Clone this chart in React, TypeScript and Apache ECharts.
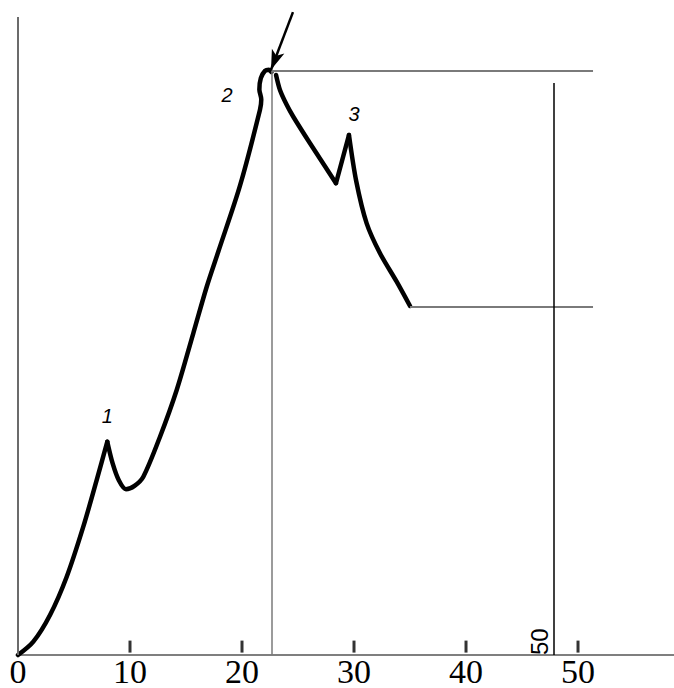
import React, { useEffect, useRef } from "react";
import * as echarts from "echarts";

// x axis
const xMin = 0;
const xMax = 58.57;
const xInterval = 10;
const xTickMarks = [10, 20, 30, 40, 50];
const tickCentre = 0.75;

// rising branch: origin up to peak 1
const riseToPeak1: [number, number][] = [
  [0, 0],
  [1.37, 1.19],
  [2.86, 3.57],
  [4.35, 6.99],
  [5.83, 11.46],
  [7.03, 15.63],
  [7.97, 19.04],
];

// peak 1 down through the dip and up to peak 2 (with its small hook)
const peak1ToPeak2: [number, number][] = [
  [7.97, 19.04],
  [8.45, 17.1],
  [9.0, 15.6],
  [9.64, 14.8],
  [10.4, 15.1],
  [11.19, 15.92],
  [12.68, 19.49],
  [14.17, 23.66],
  [15.65, 28.72],
  [16.85, 32.88],
  [17.88, 36.0],
  [19.82, 41.9],
  [21.6, 48.66],
  [21.72, 49.6],
  [21.55, 50.5],
  [21.68, 51.5],
  [22.05, 52.15],
  [22.4, 52.25],
  [22.62, 52.05],
];

// falling branch after peak 2 down to the local minimum
const fallToDip: [number, number][] = [
  [23.04, 51.79],
  [23.39, 50.45],
  [24.0, 49.1],
  [24.58, 48.06],
  [26.07, 45.69],
  [28.39, 42.12],
];

// dip up to peak 3
const dipToPeak3: [number, number][] = [
  [28.39, 42.12],
  [29.55, 46.43],
];

// peak 3 down to the end of the curve
const peak3ToEnd: [number, number][] = [
  [29.55, 46.43],
  [30.2, 42.3],
  [31.13, 38.54],
  [32.32, 35.87],
  [33.81, 33.33],
  [35.0, 31.16],
];

// peak labels
const peakNames = ["1", "2", "3"];
const peakLabelX = [7.97, 18.66, 30.0];
const peakLabelY = [21.3, 50.0, 48.3];

// guide lines
const yAxisTop = 56.96;
const guideX = 22.65;
const guideTop = 52.14;
const guideRight = 51.34;
const lowerLevelStart = 35.0;
const lowerLevel = 31.07;
const dimensionX = 47.86;
const dimensionTop = 51.07;
const dimensionLabel = "50";
const arrowStart = [24.55, 57.4];
const arrowEnd = [22.59, 52.25];

const SERIF = "Liberation Serif";
const SANS = "Liberation Sans";

const curveStyle = { color: "#000", width: 4.5, join: "round", cap: "round" };

function curveSeries(data: [number, number][], extra: object = {}) {
  return {
    type: "line",
    data,
    symbol: "none",
    smooth: 0.3,
    clip: false,
    lineStyle: curveStyle,
    ...extra,
  };
}

export default function App() {
  const ref = useRef<HTMLDivElement>(null);
  useEffect(() => {
    if (!ref.current) return;
    const chart = echarts.init(ref.current, null, { renderer: "svg" });
    const grey = "#7a7a7a";
    chart.setOption({
      animation: false,
      backgroundColor: "#fff",
      textStyle: { fontFamily: SERIF },
      grid: { left: 18, right: 0, top: 0, bottom: 33 },
      xAxis: {
        type: "value",
        min: xMin,
        max: xMax,
        interval: xInterval,
        axisLine: { show: true, lineStyle: { color: "#555", width: 1.5 } },
        axisTick: { show: false },
        axisLabel: {
          show: true,
          fontFamily: SERIF,
          fontStyle: "normal",
          fontWeight: "normal",
          fontSize: 34,
          color: "#000",
          margin: 0,
          lineHeight: 32,
          showMaxLabel: false,
        },
        splitLine: { show: false },
      },
      yAxis: {
        type: "value",
        min: 0,
        max: 58.48,
        axisLine: { show: false },
        axisTick: { show: false },
        axisLabel: { show: false },
        splitLine: { show: false },
      },
      series: [
        {
          type: "scatter",
          data: xTickMarks.map((t) => [t, tickCentre]),
          symbol: "rect",
          symbolSize: [3, 12],
          itemStyle: { color: "#000" },
          silent: true,
          z: 5,
        },
        curveSeries(riseToPeak1, {
          markPoint: {
            symbol: "circle",
            symbolSize: 0,
            data: peakNames.map((n, i) => ({
              coord: [peakLabelX[i], peakLabelY[i]],
              value: n,
              label: {
                show: true,
                position: "inside",
                formatter: n,
                color: "#000",
                fontFamily: SANS,
                fontStyle: "italic",
                fontSize: 20,
              },
            })),
          },
          markLine: {
            silent: true,
            symbol: "none",
            label: { show: false },
            lineStyle: { color: "#6b6b6b", width: 2, type: "solid" },
            data: [
              [{ coord: [0, 0] }, { coord: [0, yAxisTop] }],
              [
                { coord: [guideX, 0], lineStyle: { color: grey, width: 1.5, type: "solid" } },
                { coord: [guideX, guideTop] },
              ],
              [
                { coord: [guideX, guideTop], lineStyle: { color: grey, width: 2, type: "solid" } },
                { coord: [guideRight, guideTop] },
              ],
              [
                { coord: [lowerLevelStart, lowerLevel], lineStyle: { color: grey, width: 2, type: "solid" } },
                { coord: [guideRight, lowerLevel] },
              ],
              [
                {
                  coord: [dimensionX, 0],
                  lineStyle: { color: "#000", width: 1.5, type: "solid" },
                  label: {
                    show: true,
                    position: "insideStartTop",
                    formatter: dimensionLabel,
                    color: "#000",
                    fontFamily: SANS,
                    fontSize: 24,
                    distance: [0, 3],
                  },
                },
                { coord: [dimensionX, dimensionTop] },
              ],
              [
                {
                  coord: arrowStart,
                  symbol: "none",
                  lineStyle: { color: "#000", width: 2.5, type: "solid" },
                },
                { coord: arrowEnd, symbol: "arrow", symbolSize: [10, 20] },
              ],
            ],
          },
        }),
        curveSeries(peak1ToPeak2),
        curveSeries(fallToDip),
        curveSeries(dipToPeak3, { smooth: false }),
        curveSeries(peak3ToEnd),
      ],
    });
    return () => chart.dispose();
  }, []);
  return (
    <div
      ref={ref}
      style={{ position: "absolute", left: 0, top: 0, width: 674, height: 688 }}
    />
  );
}
